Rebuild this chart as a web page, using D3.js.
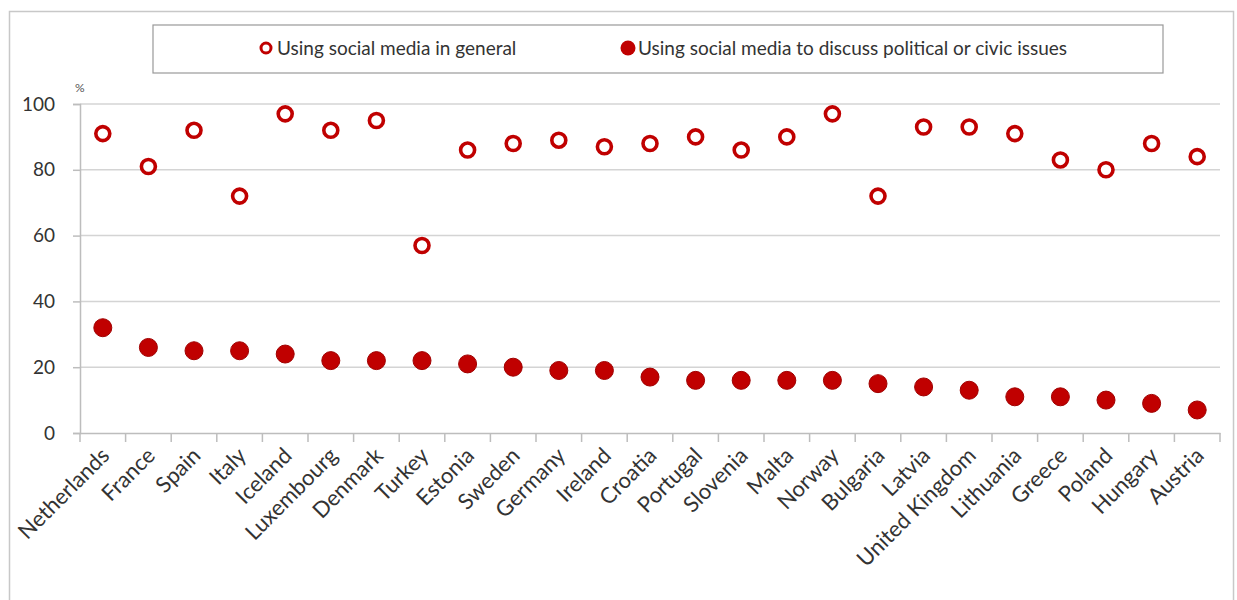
<!DOCTYPE html>
<html><head><meta charset="utf-8">
<script src="https://cdn.jsdelivr.net/npm/d3@7"></script>
<style>
body{margin:0;background:#fff;}
text{font-family:Lato,"Open Sans",sans-serif;}
</style></head>
<body><svg id="c" width="1237" height="600"></svg>
<script>
const countries = ["Netherlands","France","Spain","Italy","Iceland","Luxembourg","Denmark","Turkey","Estonia","Sweden","Germany","Ireland","Croatia","Portugal","Slovenia","Malta","Norway","Bulgaria","Latvia","United Kingdom","Lithuania","Greece","Poland","Hungary","Austria"];
const generalUse = [91,81,92,72,97,92,95,57,86,88,89,87,88,90,86,90,97,72,93,93,91,83,80,88,84];
const politicalUse = [32,26,25,25,24,22,22,22,21,20,19,19,17,16,16,16,16,15,14,13,11,11,10,9,7];
const yTicks = [0,20,40,60,80,100];
const seriesNames = ["Using social media in general","Using social media to discuss political or civic issues"];

const red = "#c00000";
const svg = d3.select("#c");
// outer frame
svg.append("rect").attr("x",9.5).attr("y",11.5).attr("width",1224).attr("height",600)
  .attr("fill","none").attr("stroke","#c8c8c8").attr("stroke-width",1.5);

const x = d3.scaleBand().domain(countries).range([80,1220]);
const y = d3.scaleLinear().domain([0,100]).range([433,104]);

// gridlines
svg.append("g").selectAll("line").data(yTicks.filter(d=>d>0)).join("line")
  .attr("x1",80).attr("x2",1220).attr("y1",d=>y(d)).attr("y2",d=>y(d))
  .attr("stroke","#d4d4d4").attr("stroke-width",1.5);

// y axis
const ya = svg.append("g").attr("transform","translate(80,0)")
  .call(d3.axisLeft(y).tickValues(yTicks).tickSize(7).tickPadding(18));
ya.select(".domain").attr("stroke","#bdbdbd").attr("stroke-width",1.5);
ya.selectAll(".tick line").attr("stroke","#bdbdbd").attr("stroke-width",1.5);
ya.selectAll(".tick text").attr("font-size",19).attr("fill","#333").style("font-family","Lato,sans-serif");

// x axis
const xa = svg.append("g").attr("transform","translate(0,433)")
  .call(d3.axisBottom(x).tickSize(0).tickFormat(""));
xa.select(".domain").attr("stroke","#bdbdbd").attr("stroke-width",1.5);
// boundary ticks
const bounds = countries.map(c=>x(c)).concat([x.range()[1]]);
svg.append("g").selectAll("line").data(bounds).join("line")
  .attr("x1",d=>d).attr("x2",d=>d).attr("y1",433).attr("y2",442)
  .attr("stroke","#bdbdbd").attr("stroke-width",1.5);
// labels
svg.append("g").selectAll("text").data(countries).join("text")
  .attr("transform",d=>`translate(${x(d)+x.bandwidth()/2+8},${457}) rotate(-45)`)
  .attr("text-anchor","end").attr("font-size",22).attr("fill","#333").text(d=>d);

svg.append("text").attr("x",75).attr("y",92).attr("font-size",12).attr("fill","#555").text("%");

// points
svg.append("g").selectAll("circle").data(countries).join("circle")
  .attr("cx",d=>x(d)+x.bandwidth()/2).attr("cy",(d,i)=>y(generalUse[i])).attr("r",7)
  .attr("fill","#fff").attr("stroke",red).attr("stroke-width",3.6);
svg.append("g").selectAll("circle").data(countries).join("circle")
  .attr("cx",d=>x(d)+x.bandwidth()/2).attr("cy",(d,i)=>y(politicalUse[i])).attr("r",9)
  .attr("fill",red).attr("stroke","#a00000").attr("stroke-width",1);

// legend
svg.append("rect").attr("x",153).attr("y",25).attr("width",1010).attr("height",48)
  .attr("fill","#fff").attr("stroke","#999").attr("stroke-width",1.2);
svg.append("circle").attr("cx",266).attr("cy",48).attr("r",5).attr("fill","#fff").attr("stroke",red).attr("stroke-width",3);
svg.append("text").attr("x",277).attr("y",55).attr("font-size",19).attr("fill","#333").text(seriesNames[0]);
svg.append("circle").attr("cx",628).attr("cy",48).attr("r",7.5).attr("fill",red);
svg.append("text").attr("x",638).attr("y",55).attr("font-size",19).attr("fill","#333").text(seriesNames[1]);
</script></body></html>
